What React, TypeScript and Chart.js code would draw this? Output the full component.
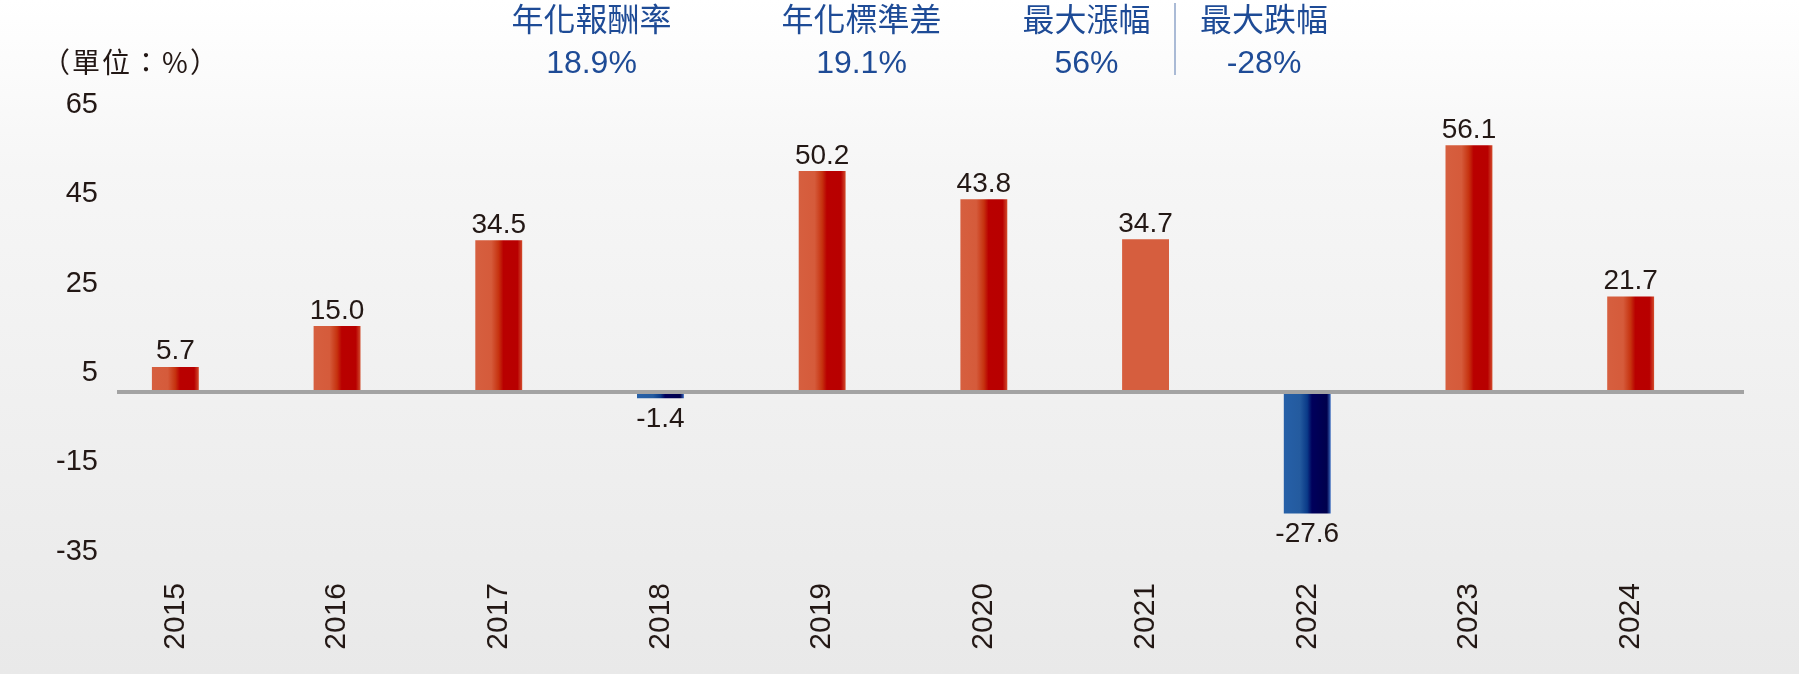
import React, { useEffect, useRef } from 'react';
import { Chart, registerables } from 'chart.js';

Chart.register(...registerables);

// ---------- data ----------
const years = ['2015', '2016', '2017', '2018', '2019', '2020', '2021', '2022', '2023', '2024'];
const returns = [5.7, 15.0, 34.5, -1.4, 50.2, 43.8, 34.7, -27.6, 56.1, 21.7];
const yMin = -35;
const yMax = 65;
const yStep = 20;
const unitLabel = '（單位：%）';
const statTitles = ['年化報酬率', '年化標準差', '最大漲幅', '最大跌幅'];
const statValues = ['18.9%', '19.1%', '56%', '-28%'];

// ---------- style ----------
const W = 1799;
const H = 674;
const TEXT = '#231815';
const BLUE = '#1e4b96';
const LATIN = '"Liberation Sans", Arial, "Noto Sans CJK TC", sans-serif';
const CJK = '"Noto Sans CJK TC", "Noto Sans CJK SC", sans-serif';
const SOLID_YEAR = '2021';
const statCentersX = [591.5, 861.5, 1086.5, 1264];
const dividerX = 1175;

function barFill(chart: any, index: number) {
  const v = returns[index];
  const xs = chart.scales && chart.scales.x;
  if (!xs || !chart.chartArea) return v >= 0 ? '#d65e3e' : '#2660a8';
  if (years[index] === SOLID_YEAR) return '#d65e3e';
  const cx = xs.getPixelForValue(index);
  const bw = (xs.width / years.length) * 0.29;
  const g = chart.ctx.createLinearGradient(cx - bw / 2, 0, cx + bw / 2, 0);
  if (v >= 0) {
    g.addColorStop(0, '#d65f3f');
    g.addColorStop(0.34, '#d55b3b');
    g.addColorStop(0.5, '#c6320f');
    g.addColorStop(0.6, '#b90000');
    g.addColorStop(0.9, '#b80000');
    g.addColorStop(1, '#d24c2c');
  } else {
    g.addColorStop(0, '#2660a8');
    g.addColorStop(0.34, '#245b9f');
    g.addColorStop(0.5, '#0a3a88');
    g.addColorStop(0.6, '#00005c');
    g.addColorStop(0.92, '#00004c');
    g.addColorStop(1, '#3a6cc0');
  }
  return g;
}

const decorPlugin = {
  id: 'decor',
  afterDatasetsDraw(chart: any) {
    const { ctx, chartArea, scales } = chart;
    const y0 = scales.y.getPixelForValue(0);
    ctx.save();
    // zero line
    ctx.strokeStyle = '#a3a3a3';
    ctx.lineWidth = 4;
    ctx.beginPath();
    ctx.moveTo(chartArea.left + 22.5, y0);
    ctx.lineTo(chartArea.right + 32.5, y0);
    ctx.stroke();
    // value labels
    const meta = chart.getDatasetMeta(0);
    ctx.font = `28px ${LATIN}`;
    ctx.fillStyle = TEXT;
    ctx.textAlign = 'center';
    ctx.textBaseline = 'alphabetic';
    meta.data.forEach((bar: any, i: number) => {
      const v = returns[i];
      const { x, y } = bar.getProps(['x', 'y'], true);
      const t = v.toFixed(1);
      if (v >= 0) ctx.fillText(t, x, y - 7.5);
      else ctx.fillText(t, x, y + 28.5);
    });
    ctx.restore();
  },
  afterDraw(chart: any) {
    const { ctx, scales } = chart;
    ctx.save();
    // y tick labels (drawn outside the axis clip so they can overhang the plot edge)
    ctx.font = `29px ${LATIN}`;
    ctx.fillStyle = TEXT;
    ctx.textAlign = 'right';
    ctx.textBaseline = 'middle';
    const ticks = scales.y.ticks.slice().sort((a: any, b: any) => b.value - a.value);
    ticks.forEach((t: any, i: number) => {
      ctx.fillText(String(t.value), scales.y.right + 3.5, scales.y.getPixelForValue(t.value) - 1.3 + i * 1.4);
    });
    // unit label
    ctx.font = `28px ${CJK}`;
    (ctx as any).letterSpacing = '2px';
    ctx.textAlign = 'center';
    ctx.fillText(unitLabel, 131, 62);
    (ctx as any).letterSpacing = '0px';
    // stats
    statTitles.forEach((t, i) => {
      ctx.font = `32px ${CJK}`;
      ctx.fillStyle = BLUE;
      ctx.textAlign = 'center';
      ctx.textBaseline = 'middle';
      ctx.fillText(t, statCentersX[i], 19);
      ctx.font = `32px ${LATIN}`;
      ctx.fillText(statValues[i], statCentersX[i], 64);
    });
    // divider
    ctx.strokeStyle = '#8fa5c8';
    ctx.lineWidth = 1.5;
    ctx.beginPath();
    ctx.moveTo(dividerX, 3);
    ctx.lineTo(dividerX, 75);
    ctx.stroke();
    ctx.restore();
  },
};

export default function App() {
  const ref = useRef<HTMLCanvasElement | null>(null);
  useEffect(() => {
    if (!ref.current) return;
    const chart = new Chart(ref.current, {
      type: 'bar',
      data: {
        labels: years,
        datasets: [
          {
            data: returns,
            backgroundColor: (c: any) => barFill(c.chart, c.dataIndex),
            borderWidth: 0,
            barPercentage: 0.29,
            categoryPercentage: 1,
          },
        ],
      },
      options: {
        responsive: false,
        animation: false,
        devicePixelRatio: 1,
        layout: { padding: { top: 106, left: 0, right: 87.5, bottom: 0 } },
        plugins: { legend: { display: false }, tooltip: { enabled: false }, title: { display: false } },
        scales: {
          x: {
            grid: { display: false, drawTicks: false },
            border: { display: false },
            ticks: {
              autoSkip: false,
              maxRotation: 90,
              minRotation: 90,
              padding: 37,
              color: TEXT,
              font: { family: LATIN, size: 30 },
            },
            afterFit: (s: any) => {
              s.height = 128;
            },
          },
          y: {
            min: yMin,
            max: yMax,
            grid: { display: false, drawTicks: false },
            border: { display: false },
            ticks: {
              stepSize: yStep,
              display: false,
            },
            afterFit: (s: any) => {
              s.width = 94.5;
            },
          },
        },
      },
      plugins: [decorPlugin],
    });
    return () => chart.destroy();
  }, []);
  return (
    <div
      style={{
        position: 'fixed',
        left: 0,
        top: 0,
        width: W,
        height: H,
        background: 'linear-gradient(to bottom, #ffffff 0%, #f6f6f6 25%, #e9e9e9 100%)',
      }}
    >
      <canvas ref={ref} width={W} height={H} style={{ display: 'block', width: W, height: H }} />
    </div>
  );
}
